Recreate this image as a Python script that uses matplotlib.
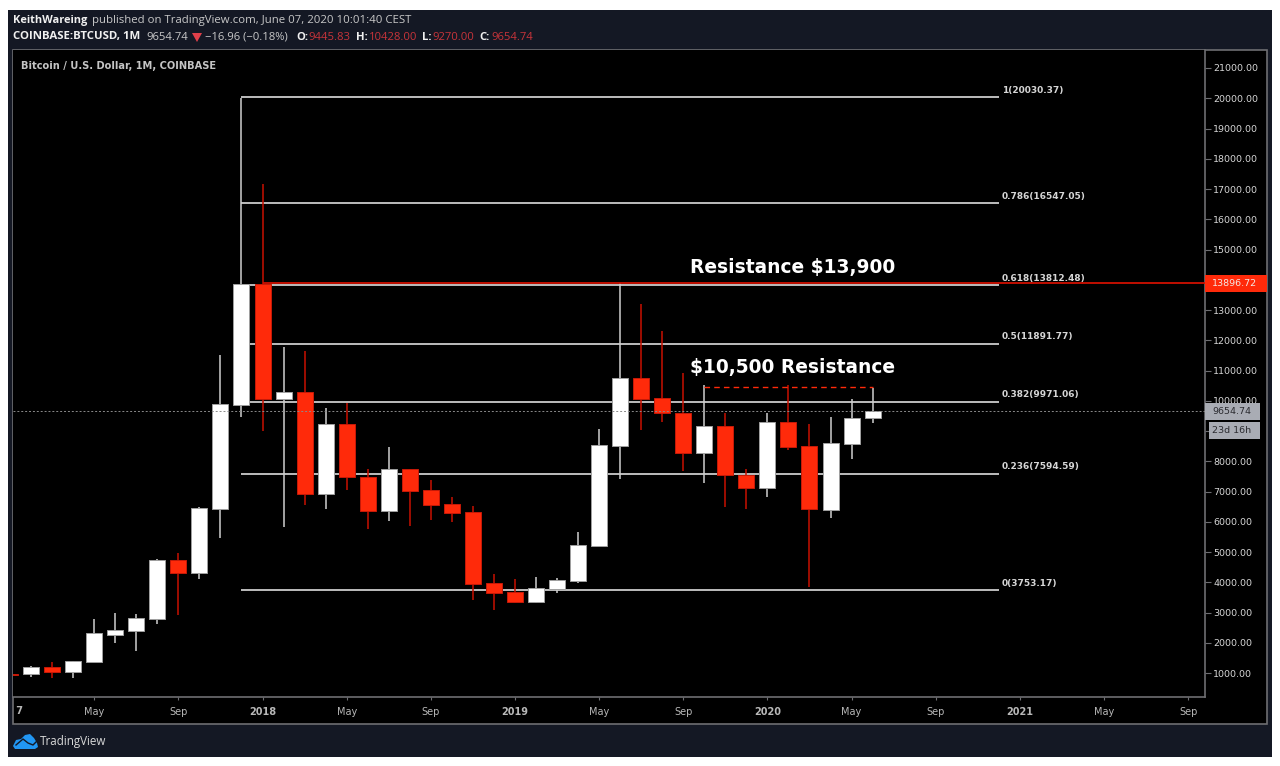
"""BTCUSD monthly candles with fib levels, TradingView dark style (headless / Agg)."""

import matplotlib

matplotlib.use("Agg")
import matplotlib.pyplot as plt
from matplotlib.patches import Polygon, Rectangle
from matplotlib.transforms import Bbox

# month index 0 = Jan 2017
opens = [970, 970, 1198, 1033, 1364, 2256, 2388, 2785, 4736, 4306, 6421, 9860,
         13860, 10058, 10289, 6917, 9231, 7479, 6355, 7744, 7050, 6587, 6322, 3975,
         3678, 3347, 3777, 4041, 5198, 8504, 10752, 10091, 9595, 8273, 9165, 7545,
         7116, 9297, 8504, 6388, 8570, 9445.83]
highs = [1000, 1231, 1364, 1397, 2785, 2983, 2950, 4769, 4967, 6488, 11512, 20000,
         17170, 11777, 11645, 9760, 9926, 7744, 8471, 7744, 7380, 6818, 6521, 4273,
         4107, 4173, 4140, 5661, 9066, 13893, 13198, 12306, 10917, 10521, 9595, 7744,
         9595, 10521, 9231, 9463, 10058, 10428]
lows = [900, 868, 835, 835, 1364, 1992, 1727, 2620, 2917, 4107, 5463, 9463,
        9000, 5826, 6554, 6421, 7050, 5760, 6025, 5860, 6058, 5992, 3413, 3083,
        3314, 3314, 3645, 3975, 5198, 7413, 9033, 9298, 7678, 7281, 6488, 6421,
        6818, 8372, 3843, 6124, 8074, 9270]
closes = [940, 1198, 1033, 1397, 2322, 2421, 2818, 4736, 4306, 6455, 9893, 13860,
          10058, 10289, 6917, 9231, 7479, 6355, 7744, 7017, 6554, 6289, 3942, 3645,
          3347, 3810, 4074, 5231, 8537, 10752, 10058, 9595, 8273, 9165, 7545, 7116,
          9297, 8471, 6421, 8603, 9430, 9654.74]

fib_ratios = ["1", "0.786", "0.618", "0.5", "0.382", "0.236", "0"]
fib_prices = [20030.37, 16547.05, 13812.48, 11891.77, 9971.06, 7594.59, 3753.17]
fib_start, fib_end = 11, 47

resistance_major = 13896.72
resistance_minor = 10456
last_price = 9654.74

y_ticks = list(range(1000, 22000, 1000))
y_hidden = [9000, 14000]  # sit behind the price badges
x_tick_pos = [4, 8, 12, 16, 20, 24, 28, 32, 36, 40, 44, 48, 52, 56]
x_tick_txt = ["May", "Sep", "2018", "May", "Sep", "2019", "May", "Sep",
              "2020", "May", "Sep", "2021", "May", "Sep"]

RED = "#ff2a0a"
RED_WICK = "#c81000"
LINE = "#dcdcdc"
TXT = "#d6d6d6"
FRAME = "#6e6e72"
PANEL = "#141824"
MONO = "DejaVu Sans"

W, H = 1280, 766
fig = plt.figure(figsize=(W / 100, H / 100), dpi=100, facecolor="white")

# page chrome in pixel coordinates
bg = fig.add_axes((0, 0, 1, 1))
bg.set_xlim(0, W)
bg.set_ylim(H, 0)
bg.axis("off")
bg.add_patch(Rectangle((8, 10), 1264, 747, fc=PANEL, ec="none"))
bg.add_patch(Rectangle((12.5, 49.5), 1254, 674, fc="black", ec=FRAME, lw=1.2))

# main chart
ax = fig.add_axes((13 / W, 1 - 697 / H, (1205 - 13) / W, (697 - 50) / H), facecolor="black")

for i, (o, h, l, c) in enumerate(zip(opens, highs, lows, closes)):
    up = c >= o
    ax.vlines(i, l, h, color="#cfcfcf" if up else RED_WICK, lw=1.1, zorder=3)
    ax.bar(i, abs(c - o), bottom=min(o, c), width=0.76, color="white" if up else RED,
           edgecolor="#a0a0a0" if up else "#c81a08", lw=0.7, zorder=4)

for ratio, price in zip(fib_ratios, fib_prices):
    ax.hlines(price, fib_start, fib_end, color=LINE, lw=1.2, zorder=2)
    ax.text(fib_end + 0.15, price + 220, f"{ratio}({price:.2f})", color=TXT, fontsize=6.5,
            fontweight="bold", family=MONO, va="center", ha="left", zorder=6)

ax.hlines(resistance_major, 12, 57, color="#d01000", lw=1.3, zorder=3)
ax.axhline(last_price, color="#8a8a8a", lw=0.7, ls=(0, (2, 2)), zorder=5)
ax.hlines(resistance_minor, 33, 41, color=RED, lw=1.0, ls=(0, (4, 3)), zorder=5)
ax.text(32.3, 14420, "Resistance $13,900", color="white", fontsize=13.4, fontweight="bold",
        family=MONO, va="center", ha="left", zorder=6)
ax.text(32.3, 11100, "$10,500 Resistance", color="white", fontsize=13.4, fontweight="bold",
        family=MONO, va="center", ha="left", zorder=6)
ax.text(0.52, 21050, "Bitcoin / U.S. Dollar, 1M, COINBASE", color="#c4c4c4", fontsize=7.1,
        fontweight="bold", family=MONO, va="center", ha="left", zorder=6)

ax.yaxis.tick_right()
ax.set_yticks(y_ticks, ["" if v in y_hidden else f"{v:.2f}" for v in y_ticks])
ax.set_xticks(x_tick_pos, x_tick_txt)
# limits after the ticks: month 0 at x=10px, 1000 at y=673px
ax.set_xlim(0.14, 56.8)
ax.set_ylim(207, 21595)
ax.tick_params(axis="y", colors=FRAME, labelcolor=TXT, length=4, width=0.8, labelsize=6.8, pad=2)
ax.tick_params(axis="x", colors=FRAME, labelcolor="#b8b8b8", length=2, width=0.8, labelsize=7, pad=5)
for lab, txt in zip(ax.get_xticklabels(), x_tick_txt):
    if txt.isdigit():
        lab.set_fontweight("bold")
for side in ("top", "left"):
    ax.spines[side].set_visible(False)
for side in ("bottom", "right"):
    ax.spines[side].set_color(FRAME)
    ax.spines[side].set_linewidth(1.2)

# top overlay for price badges, header and logo
over = fig.add_axes((0, 0, 1, 1), facecolor="none")
over.set_xlim(0, W)
over.set_ylim(H, 0)
over.axis("off")


def badge(x, y, w, h, text, fc, color, x_text):
    over.add_patch(Rectangle((x, y), w, h, fc=fc, ec="none"))
    over.text(x_text, y + h / 2, text, color=color, fontsize=6.8, family=MONO, va="center", ha="left")


badge(1205, 275, 62, 17, f"{resistance_major:.2f}", RED, "#f4e8e4", 1212)
badge(1205, 403, 55, 17, f"{last_price:.2f}", "#a9acb4", "#2b2b30", 1212)
badge(1209, 422, 51, 17, "23d 16h", "#a9acb4", "#2b2b30", 1212)

# 2017 tick is left of the plot, only its last digit shows past the frame
first = over.text(10, 711, "2017", color="#b8b8b8", fontsize=7, fontweight="bold", family=MONO,
                  va="center", ha="center")
first.set_clip_on(True)
first.set_clip_box(Bbox([[15.5, 0], [200, H]]))

HEAD = "Open Sans"
header = [
    (13, 21, "KeithWareing", "#f0f0f0", "bold", 7.9),
    (92, 21, "published on TradingView.com, June 07, 2020 10:01:40 CEST", "#c8c8c8", "normal", 8.2),
    (13, 37, "COINBASE:BTCUSD, 1M", "#f0f0f0", "bold", 8.2),
    (146, 37, "9654.74", "#c8c8c8", "normal", 8.1),
    (205, 37, "−16.96 (−0.18%)", "#c8c8c8", "normal", 8.1),
    (296, 37, "O:", "#f0f0f0", "bold", 8.1),
    (308, 37, "9445.83", "#c8343a", "normal", 8.1),
    (356, 37, "H:", "#f0f0f0", "bold", 8.1),
    (369, 37, "10428.00", "#c8343a", "normal", 8.1),
    (422, 37, "L:", "#f0f0f0", "bold", 8.1),
    (432, 37, "9270.00", "#c8343a", "normal", 8.1),
    (479, 37, "C:", "#f0f0f0", "bold", 8.1),
    (491, 37, "9654.74", "#c8343a", "normal", 8.1),
]
for x, y, s, col, weight, size in header:
    over.text(x, y, s, color=col, fontsize=size, fontweight=weight, family=HEAD, va="center", ha="left")
over.add_patch(Polygon([(192, 33), (202, 33), (197, 42)], fc="#e0404a", ec="none"))

over.add_patch(Polygon([(13, 746), (16, 740), (21, 739), (25, 735), (30, 734), (34, 738),
                        (37, 743), (38, 747), (35, 749), (15, 749)], fc="#2196f3", ec="none"))
over.plot([16, 23, 28, 33, 37], [745, 739, 743, 745, 741], color=PANEL, lw=1.0)
over.text(40, 741, "TradingView", color="#d8d8d8", fontsize=8.4, family=HEAD, va="center", ha="left")

fig.savefig("out.png", dpi=100, facecolor="white")
plt.close(fig)
